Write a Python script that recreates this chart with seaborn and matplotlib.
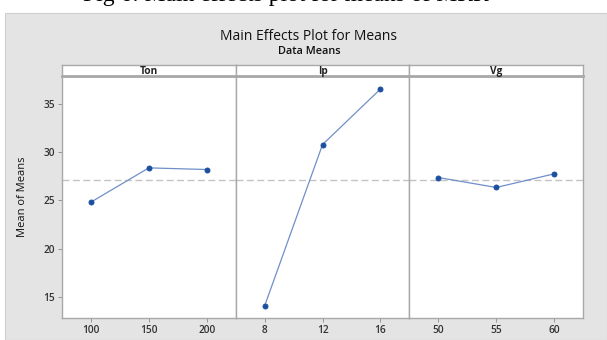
#!/usr/bin/env python3
"""Main effects plot for means (Ton, Ip, Vg) redrawn with seaborn."""

import matplotlib

matplotlib.use("Agg")

import matplotlib.pyplot as plt
import numpy as np
import seaborn as sns
from matplotlib.patches import Rectangle

FACTORS = ["Ton", "Ip", "Vg"]
TON_LEVELS = ["100", "150", "200"]
IP_LEVELS = ["8", "12", "16"]
VG_LEVELS = ["50", "55", "60"]
TON_MEANS = [24.82, 28.37, 28.20]
IP_MEANS = [14.06, 30.79, 36.55]
VG_MEANS = [27.37, 26.34, 27.75]
Y_TICKS = [15, 20, 25, 30, 35]

BG = "#e4e4e4"
FRAME = "#a8a8a8"
LINE_C = "#6f8fca"
MARK_C = "#1c4f9f"
TEXT_C = "#333333"

sns.set_theme(style="white")
plt.rcParams["font.family"] = ["Open Sans", "DejaVu Sans"]

W, H = 607, 340
fig = plt.figure(figsize=(W / 100, H / 100), dpi=100)
fig.patch.set_facecolor("white")

# grey backdrop of the Minitab graph window
fig.add_artist(Rectangle((5 / W, 0), 1 - 5 / W, 1 - 13 / H, transform=fig.transFigure,
                         facecolor=BG, edgecolor="#cfcfcf", linewidth=0.8, zorder=0))

# caption line of the source document, cropped at the top edge in the original
fig.text(83 / W, 1 - 1.5 / H, "Fig 6: Main effects plot for means of MRR", family="Liberation Serif",
         fontsize=17, color="black", va="baseline", ha="left")

fig.text(309 / W, 1 - 36 / H, "Main Effects Plot for Means", ha="center", va="center",
         fontsize=10, color="#111111")
fig.text(309 / W, 1 - 51 / H, "Data Means", ha="center", va="center",
         fontsize=7.8, color="#111111", fontweight="semibold")

panels = [(TON_LEVELS, TON_MEANS), (IP_LEVELS, IP_MEANS), (VG_LEVELS, VG_MEANS)]
grand_mean = np.mean(np.concatenate([TON_MEANS, IP_MEANS, VG_MEANS]))

left_px = 62
panel_w = 173.7
plot_top, plot_bot, head_top = 76, 318, 65

for i, (name, (levels, means)) in enumerate(zip(FACTORS, panels)):
    x0 = (left_px + i * panel_w) / W
    w = panel_w / W
    ax = fig.add_axes([x0, 1 - plot_bot / H, w, (plot_bot - plot_top) / H])
    ax.set_facecolor("white")
    ax.axhline(grand_mean, color="#c4c4c4", linestyle=(0, (5, 2.5)), linewidth=1.0, zorder=1)
    sns.pointplot(x=levels, y=means, order=levels, ax=ax, color=LINE_C, errorbar=None,
                  linewidth=0.9, markersize=3.6, markerfacecolor=MARK_C, markeredgecolor=MARK_C)
    ax.set_xlim(-0.5, len(levels) - 0.5)
    ax.set_ylim(12.8, 37.9)
    ax.set_yticks(Y_TICKS)
    ax.set_xlabel("")
    for s in ax.spines.values():
        s.set_color(FRAME)
        s.set_linewidth(1.0)
    ax.tick_params(axis="x", bottom=True, length=3, width=0.6, color="#888888",
                   labelsize=7.3, labelcolor=TEXT_C, pad=2)
    if i == 0:
        ax.tick_params(axis="y", left=True, length=3, width=0.6, color="#888888",
                       labelsize=7.3, labelcolor=TEXT_C, pad=2)
        ax.set_ylabel("Mean of Means", fontsize=8, color="#111111", labelpad=11)
    else:
        ax.tick_params(axis="y", left=False, labelleft=False)
        ax.set_ylabel("")
    for lab in ax.get_xticklabels() + ax.get_yticklabels():
        lab.set_fontweight("semibold")

    hax = fig.add_axes([x0, 1 - plot_top / H, w, (plot_top - head_top) / H])
    hax.set_facecolor("white")
    hax.set_xticks([])
    hax.set_yticks([])
    for s in hax.spines.values():
        s.set_color(FRAME)
        s.set_linewidth(1.0)
    hax.spines["bottom"].set_linewidth(2.0)
    hax.text(0.5, 0.45, name, ha="center", va="center", transform=hax.transAxes,
             fontsize=7.3, fontweight="bold", color="#222222")

fig.savefig("out.png", dpi=100, facecolor=fig.get_facecolor())
